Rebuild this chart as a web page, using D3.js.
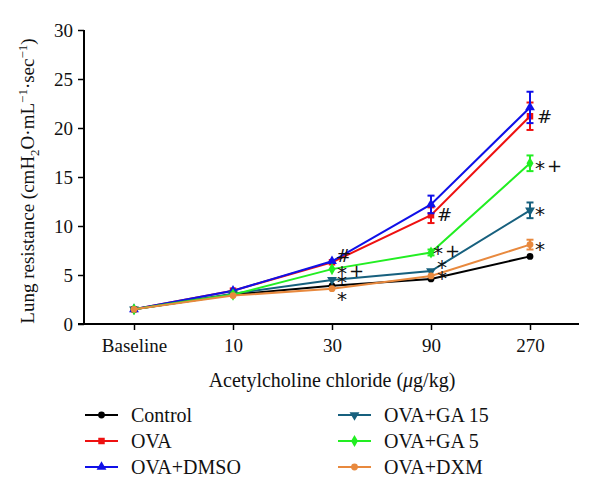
<!DOCTYPE html>
<html>
<head>
<meta charset="utf-8">
<script src="https://cdn.jsdelivr.net/npm/d3@7"></script>
<style>
  html, body { margin: 0; padding: 0; background: #fff; }
</style>
</head>
<body>
<svg id="chart" width="600" height="502"></svg>
<script>
// ---------- data ----------
const categories = ["Baseline", "10", "30", "90", "270"];
const yTicks = [0, 5, 10, 15, 20, 25, 30];

const seriesNames = ["Control", "OVA", "OVA+DMSO", "OVA+GA 15", "OVA+GA 5", "OVA+DXM"];
const controlVals = [1.5, 3.0, 3.9, 4.6, 6.9];
const ovaVals     = [1.5, 3.4, 6.3, 11.1, 21.2];
const dmsoVals    = [1.5, 3.4, 6.4, 12.2, 22.1];
const ga15Vals    = [1.5, 3.1, 4.5, 5.4, 11.6];
const ga5Vals     = [1.5, 3.0, 5.6, 7.3, 16.4];
const dxmVals     = [1.5, 2.9, 3.6, 4.9, 8.1];

const controlErr = [0.1, 0.1, 0.1, 0.15, 0.2];
const ovaErr     = [0.1, 0.2, 0.2, 0.8, 1.4];
const dmsoErr    = [0.1, 0.2, 0.2, 0.9, 1.6];
const ga15Err    = [0.1, 0.1, 0.2, 0.2, 0.8];
const ga5Err     = [0.1, 0.1, 0.2, 0.3, 0.8];
const dxmErr     = [0.1, 0.1, 0.15, 0.2, 0.5];

// significance marks: category, series whose value anchors the mark, symbol(s)
const marks = [
  {cat: "30", series: "OVA+DMSO", text: "#"},
  {cat: "30", series: "OVA+GA 5", text: "*+"},
  {cat: "30", series: "OVA+GA 15", text: "*"},
  {cat: "30", series: "OVA+DXM", text: "*"},
  {cat: "90", series: "OVA", text: "#"},
  {cat: "90", series: "OVA+GA 5", text: "*+"},
  {cat: "90", series: "OVA+GA 15", text: "*"},
  {cat: "90", series: "OVA+DXM", text: "*"},
  {cat: "270", series: "OVA", text: "#"},
  {cat: "270", series: "OVA+GA 5", text: "*+"},
  {cat: "270", series: "OVA+GA 15", text: "*"},
  {cat: "270", series: "OVA+DXM", text: "*"}
];

// ---------- styling ----------
const SERIF = "'Liberation Serif', 'DejaVu Serif', serif";
const styles = {
  "Control":   {color: "#000000", shape: d3.symbolCircle,   size: 36},
  "OVA":       {color: "#ee1111", shape: d3.symbolSquare,   size: 42},
  "OVA+DMSO":  {color: "#1010e8", shape: d3.symbolTriangle, size: 42},
  "OVA+GA 15": {color: "#17607e", shape: d3.symbolTriangle, size: 42, rotate: 180},
  "OVA+GA 5":  {color: "#22ee22", shape: d3.symbolDiamond,  size: 42},
  "OVA+DXM":   {color: "#e8893e", shape: d3.symbolCircle,   size: 36}
};

const valsList = [controlVals, ovaVals, dmsoVals, ga15Vals, ga5Vals, dxmVals];
const errList = [controlErr, ovaErr, dmsoErr, ga15Err, ga5Err, dxmErr];
const series = seriesNames.map((n, i) => ({
  name: n,
  points: categories.map((c, j) => ({cat: c, v: valsList[i][j], e: errList[i][j]}))
}));
const byName = Object.fromEntries(series.map(s => [s.name, s]));

// ---------- layout ----------
const svg = d3.select("#chart");
const x0 = 84, x1 = 579, yTop = 30, yBot = 324;

const x = d3.scalePoint().domain(categories).range([134, 530]);
const y = d3.scaleLinear().domain([0, 30]).range([yBot, yTop]);

// axes
const yAxis = d3.axisLeft(y).tickValues(yTicks).tickSize(6).tickPadding(5);
const gy = svg.append("g").attr("transform", `translate(${x0},0)`).call(yAxis);
gy.attr("font-family", null);
gy.select(".domain").attr("stroke", "#000").attr("stroke-width", 2).attr("d", `M0,${yTop}V${yBot}`);
gy.selectAll(".tick line").attr("stroke", "#000").attr("stroke-width", 1.5);
gy.selectAll(".tick text").style("font-size", "19px").style("font-family", SERIF).attr("fill", "#111");

const xAxis = d3.axisBottom(x).tickSize(6).tickPadding(9);
const gx = svg.append("g").attr("transform", `translate(0,${yBot})`).call(xAxis);
gx.attr("font-family", null);
gx.select(".domain").attr("stroke", "#000").attr("stroke-width", 2).attr("d", `M${x0 - 6},0H${x1}`);
gx.selectAll(".tick line").attr("stroke", "#000").attr("stroke-width", 1.5);
gx.selectAll(".tick text").style("font-size", "19px").style("font-family", SERIF).attr("fill", "#111");

// axis titles
const xt = svg.append("text").attr("x", 332).attr("y", 387).attr("text-anchor", "middle")
  .style("font-size", "20px").style("font-family", SERIF).attr("fill", "#111");
xt.append("tspan").text("Acetylcholine chloride (");
xt.append("tspan").style("font-style", "italic").text("μ");
xt.append("tspan").text("g/kg)");

const yt = svg.append("text").attr("transform", "translate(34,181) rotate(-90)")
  .attr("text-anchor", "middle").style("font-size", "19px").style("font-family", SERIF).attr("fill", "#111");
yt.append("tspan").text("Lung resistance (cmH");
yt.append("tspan").attr("dy", 5).style("font-size", "13px").text("2");
yt.append("tspan").attr("dy", -5).text("O·mL");
yt.append("tspan").attr("dy", -7).style("font-size", "13px").text("−1");
yt.append("tspan").attr("dy", 7).text("·sec");
yt.append("tspan").attr("dy", -7).style("font-size", "13px").text("−1");
yt.append("tspan").attr("dy", 7).text(")");

// lines
const line = d3.line().x(d => x(d.cat)).y(d => y(d.v));
const gs = svg.append("g").selectAll("g").data(series).join("g");
gs.append("path").attr("d", d => line(d.points)).attr("fill", "none")
  .attr("stroke", d => styles[d.name].color).attr("stroke-width", 2);

// error bars
gs.each(function(s) {
  const g = d3.select(this);
  const col = styles[s.name].color;
  const eb = g.selectAll(".eb").data(s.points.filter(p => y(p.v - p.e) - y(p.v + p.e) > 4)).join("g");
  eb.append("line").attr("x1", d => x(d.cat)).attr("x2", d => x(d.cat))
    .attr("y1", d => y(d.v - d.e)).attr("y2", d => y(d.v + d.e)).attr("stroke", col).attr("stroke-width", 2);
  [-1, 1].forEach(sg => {
    eb.append("line").attr("x1", d => x(d.cat) - 3.5).attr("x2", d => x(d.cat) + 3.5)
      .attr("y1", d => y(d.v + sg * d.e)).attr("y2", d => y(d.v + sg * d.e))
      .attr("stroke", col).attr("stroke-width", 2);
  });
});

// markers
function symbolPath(name) { return d3.symbol().type(styles[name].shape).size(styles[name].size)(); }
gs.each(function(s) {
  const st = styles[s.name];
  d3.select(this).selectAll(".m").data(s.points).join("path")
    .attr("d", symbolPath(s.name))
    .attr("transform", d => `translate(${x(d.cat)},${y(d.v)})` + (st.rotate ? ` rotate(${st.rotate})` : ""))
    .attr("fill", st.color);
});

// significance marks
const markOffsets = {
  "30|OVA+DMSO|#": [4, 1], "30|OVA+GA 5|*+": [5, 11],
  "30|OVA+GA 15|*": [5, 9], "30|OVA+DXM|*": [5, 17],
  "90|OVA|#": [6, 6], "90|OVA+GA 5|*+": [2, 8],
  "90|OVA+GA 15|*": [6, 3], "90|OVA+DXM|*": [6, 9],
  "270|OVA|#": [7, 7], "270|OVA+GA 5|*+": [5, 12],
  "270|OVA+GA 15|*": [5, 11], "270|OVA+DXM|*": [5, 11]
};
const mk = svg.append("g").selectAll("text").data(marks).join("text")
  .attr("x", d => x(d.cat) + markOffsets[`${d.cat}|${d.series}|${d.text}`][0])
  .attr("y", d => y(byName[d.series].points[categories.indexOf(d.cat)].v) + markOffsets[`${d.cat}|${d.series}|${d.text}`][1])
  .style("font-size", d => d.text === "#" ? "18px" : "20px")
  .style("font-family", "'DejaVu Sans', sans-serif").attr("fill", "#111");
mk.each(function(d) {
  const t = d3.select(this);
  if (d.text === "*+") {
    t.append("tspan").text("*");
    t.append("tspan").attr("dx", 2).attr("dy", -3).style("font-size", "18px").text("+");
  } else {
    t.text(d.text);
  }
});

// legend
const legendCols = [85, 338];
const legendRows = [415, 441, 467];
const lg = svg.append("g").selectAll("g").data(seriesNames).join("g")
  .attr("transform", (d, i) => `translate(${legendCols[Math.floor(i / 3)]},${legendRows[i % 3]})`);
lg.append("line").attr("x1", 0).attr("x2", 33).attr("y1", 0).attr("y2", 0)
  .attr("stroke", d => styles[d].color).attr("stroke-width", 2);
lg.append("path").attr("d", d => symbolPath(d))
  .attr("transform", d => `translate(16.5,0)` + (styles[d].rotate ? ` rotate(${styles[d].rotate})` : ""))
  .attr("fill", d => styles[d].color);
lg.append("text").attr("x", 46).attr("y", 6.5).attr("font-family", SERIF).style("font-size", "20px").style("font-family", SERIF)
  .attr("fill", "#111").text(d => d);
</script>
</body>
</html>
